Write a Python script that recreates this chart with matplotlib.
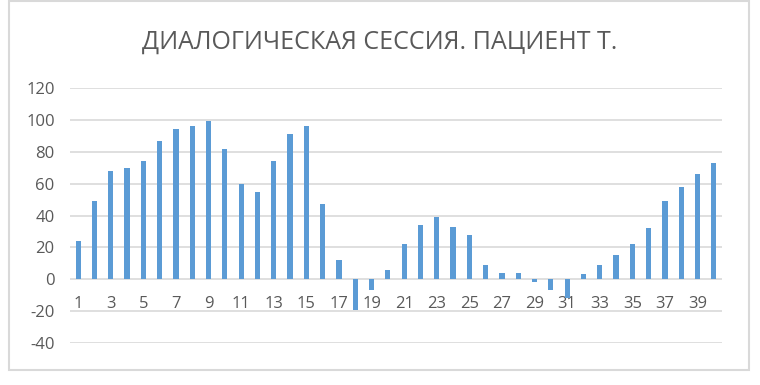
import matplotlib
matplotlib.use("Agg")
import matplotlib.pyplot as plt
from matplotlib.patches import Rectangle

categories = list(range(1, 41))
values = [24, 49, 68, 70, 74, 87, 94, 96, 99, 82,
          60, 55, 74, 91, 96, 47, 12, -19, -7, 6,
          22, 34, 39, 33, 28, 9, 4, 4, -2, -7,
          -12, 3, 9, 15, 22, 32, 49, 58, 66, 73]
tick_labels = [str(c) if c % 2 == 1 else "" for c in categories]
y_ticks = [-40, -20, 0, 20, 40, 60, 80, 100, 120]

plt.rcParams['font.family'] = ['Open Sans', 'DejaVu Sans']

fig = plt.figure(figsize=(7.6, 3.85), dpi=100)
ax = fig.add_axes([70 / 760, 1 - 343 / 385, 652 / 760, 255 / 385])

ax.bar(categories, values, width=0.32, color='#5b9bd5', zorder=3)

ax.set_xlim(0.5, 40.5)
ax.set_ylim(-40, 120)
ax.set_yticks(y_ticks)
ax.set_yticklabels([str(t) for t in y_ticks])
ax.grid(axis='y', color='#d9d9d9', linewidth=1.2, zorder=0)

ax.set_xticks(categories)
ax.set_xticklabels(tick_labels)
ax.spines['bottom'].set_position(('data', 0))
for s in ax.spines.values():
    s.set_visible(False)
ax.tick_params(axis='x', length=0, pad=12, labelsize=12, labelcolor='#595959')
ax.tick_params(axis='y', length=0, pad=11, labelsize=12, labelcolor='#595959')

fig.text(0.5, 1 - 42 / 385, 'ДИАЛОГИЧЕСКАЯ СЕССИЯ. ПАЦИЕНТ Т.',
         ha='center', va='center', fontsize=18, color='#595959')

# chart border
fig.patches.append(Rectangle((9 / 760, 1 - 370 / 385), 740 / 760, 369 / 385,
                             transform=fig.transFigure, fill=False,
                             edgecolor='#d9d9d9', linewidth=1.5))

fig.savefig('out.png', dpi=100)
